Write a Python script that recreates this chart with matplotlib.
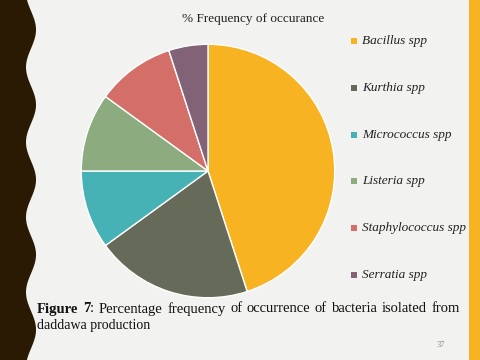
import numpy as np
import matplotlib.pyplot as plt
from matplotlib.patches import Rectangle, Polygon

labels = ['Bacillus spp', 'Kurthia spp', 'Micrococcus spp', 'Listeria spp',
          'Staphylococcus spp', 'Serratia spp']
freq = [45, 20, 10, 10, 10, 5]
colors = ['#F8B323', '#656A59', '#46B2B5', '#8CAB7E', '#D36F68', '#826276']

W, H = 480, 360
fig = plt.figure(figsize=(4.8, 3.6), dpi=100)
fig.patch.set_facecolor('#F2F2F0')
plt.rcParams['font.family'] = ['Liberation Serif', 'DejaVu Serif']

# decorative side strips
yy = np.linspace(0, H, 400)
edge = 31 + 5 * np.sin(2 * np.pi * (yy - 11) / 75)
pts = [(0, 1)] + [(x / W, 1 - y / H) for x, y in zip(edge, yy)] + [(0, 0)]
fig.patches.append(Polygon(pts, closed=True, transform=fig.transFigure,
                           facecolor='#2A1A03', edgecolor='none'))
fig.patches.append(Rectangle((469 / W, 0), 11 / W, 1, transform=fig.transFigure,
                             facecolor='#F8B323', edgecolor='none'))

# pie
cx, cy, r = 208, 171, 128
ax = fig.add_axes([(cx - r) / W, (H - cy - r) / H, 2 * r / W, 2 * r / H])
ax.pie(freq, colors=colors, startangle=90, counterclock=False, radius=1,
       wedgeprops=dict(edgecolor='white', linewidth=1))
ax.set_xlim(-1.01, 1.01)
ax.set_ylim(-1.01, 1.01)
ax.set_aspect('equal')
ax.axis('off')

fig.text(253 / W, 1 - 19 / H, '% Frequency of occurance', ha='center', va='center',
         fontsize=9.5, color='#222222')

# legend
leg_y = [41, 88, 135, 181, 228, 275]
for lab, c, y in zip(labels, colors, leg_y):
    fig.patches.append(Rectangle((351 / W, 1 - (y + 3) / H), 6 / W, 6 / H,
                                 transform=fig.transFigure, facecolor=c, edgecolor='none'))
    fig.text(362 / W, 1 - y / H, lab, ha='left', va='center', fontsize=9.5,
             style='italic', color='#222222')

# caption, first line justified
fig.canvas.draw()
rend = fig.canvas.get_renderer()
words = [('Figure', 'bold'), ('7', 'bold'), (':', 'normal'), ('Percentage', 'normal'),
         ('frequency', 'normal'), ('of', 'normal'), ('occurrence', 'normal'),
         ('of', 'normal'), ('bacteria', 'normal'), ('isolated', 'normal'), ('from', 'normal')]
x0, x1, y1 = 37, 460, 309
tmp = []
for w, wt in words:
    t = fig.text(0, 0, w, fontsize=10.5, fontweight=wt, color='#111111', va='center')
    tmp.append(t)
widths = [t.get_window_extent(rend).width for t in tmp]
# ':' attaches to '7'
groups = [[0], [1, 2]] + [[i] for i in range(3, len(words))]
gw = [sum(widths[i] for i in g) for g in groups]
gap = (x1 - x0 - sum(gw)) / (len(groups) - 1)
x = x0
for g, w in zip(groups, gw):
    xi = x
    for i in g:
        tmp[i].set_position((xi / W, 1 - y1 / H))
        xi += widths[i]
    x += w + gap
fig.text(x0 / W, 1 - 325 / H, 'daddawa production', fontsize=10, va='center',
         color='#111111')

fig.text(441 / W, 1 - 345 / H, '37', fontsize=6, ha='center', va='center', color='#888888')

fig.savefig('out.png', dpi=100, facecolor=fig.get_facecolor())
